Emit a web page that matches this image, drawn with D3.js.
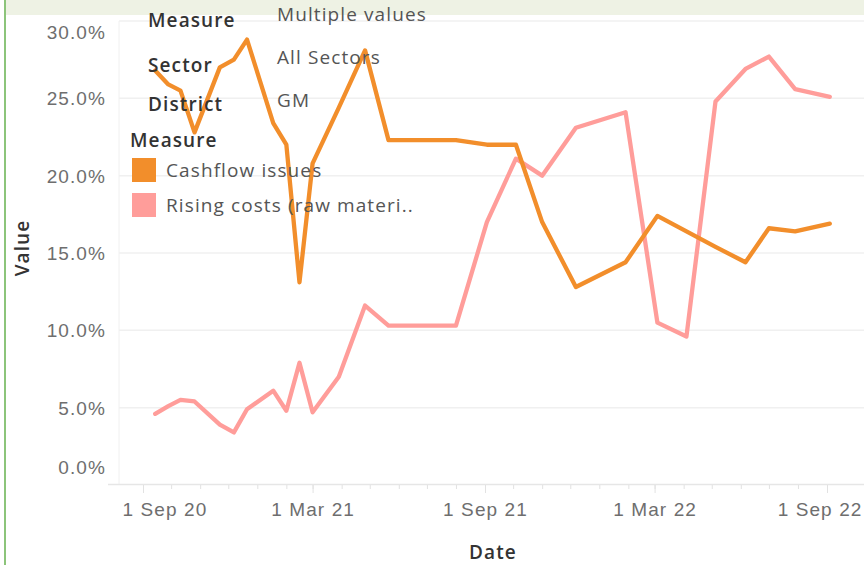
<!DOCTYPE html>
<html>
<head>
<meta charset="utf-8">
<script src="https://cdn.jsdelivr.net/npm/d3@7"></script>
<style>
  body { margin: 0; background: #fff; }
  svg { display: block; font-family: "Open Sans", sans-serif; }
</style>
</head>
<body>
<div id="graph"></div>
<script>
//measurements
var width = 864;
var height = 565;
var margin = { top: 21, right: 0, bottom: 80, left: 119 };
var fontSize = "19px";
var spacing = "1.1px";

//data
var dates = ["2020-09-14", "2020-09-28", "2020-10-11", "2020-10-26", "2020-11-22", "2020-12-07",
    "2020-12-21", "2021-01-18", "2021-02-01", "2021-02-15", "2021-03-01", "2021-03-29",
    "2021-04-26", "2021-05-21", "2021-08-01", "2021-09-03", "2021-10-04", "2021-11-01",
    "2021-12-07", "2022-01-29", "2022-03-04", "2022-04-04", "2022-05-05", "2022-06-06",
    "2022-07-01", "2022-07-29", "2022-09-04"];
var cashflow = [26.8, 25.9, 25.5, 22.8, 27.0, 27.5, 28.8, 23.4, 22.0, 13.1, 20.8, 24.4,
    28.1, 22.3, 22.3, 22.0, 22.0, 17.0, 12.8, 14.4, 17.4, 16.4, 15.4, 14.4, 16.6, 16.4, 16.9];
var risingCosts = [4.6, 5.1, 5.5, 5.4, 3.9, 3.4, 4.9, 6.1, 4.8, 7.9, 4.7, 7.0, 11.6, 10.3,
    10.3, 17.0, 21.1, 20.0, 23.1, 24.1, 10.5, 9.6, 24.8, 26.9, 27.7, 25.6, 25.1];
var seriesNames = ["Cashflow issues", "Rising costs (raw materi.."];
var seriesColors = ["#f28e2b", "#ff9d9a"];
var yTicks = [0, 0.05, 0.10, 0.15, 0.20, 0.25, 0.30];
var xTicks = ["2020-09-01", "2021-03-01", "2021-09-01", "2022-03-01", "2022-09-01"];
var filterNames = ["Measure", "Sector", "District"];
var filterValues = ["Multiple values", "All Sectors", "GM"];

var parseDate = d3.timeParse("%Y-%m-%d");

//chart variables
var chart;
var chartWidth;
var chartHeight;

init();

function init() {
    chartWidth = width - margin.left - margin.right;
    chartHeight = 485 - margin.top;
    initChart();
    createAxis();
    drawLines();
    drawLegend();
}

function initChart() {
    chart = d3.select("#graph").append("svg")
        .attr("width", width)
        .attr("height", height);

    // dashboard frame bits
    chart.append("rect")
        .attr("x", 6).attr("y", 0)
        .attr("width", width).attr("height", 15)
        .style("fill", "#eef2e4");
    chart.append("rect")
        .attr("x", 4).attr("y", 0)
        .attr("width", 2).attr("height", height)
        .style("fill", "#8cc47a");

    chart.plotArea = chart.append("g")
        .attr("transform", "translate(" + margin.left + "," + margin.top + ")");
}

function createAxis() {
    chart.xScale = d3.scaleTime()
        .domain([parseDate("2020-09-01"), parseDate("2022-09-01")])
        .range([143 - margin.left, 827 - margin.left]);

    chart.yScale = d3.scaleLinear()
        .domain([0, 0.30])
        .range([chartHeight, 0]);

    // gridlines
    chart.plotArea.selectAll(".grid")
        .data(yTicks.slice(1))
        .enter().append("line")
          .attr("class", "grid")
          .attr("x1", 0)
          .attr("x2", chartWidth)
          .attr("y1", function (d) { return chart.yScale(d); })
          .attr("y2", function (d) { return chart.yScale(d); })
          .style("stroke", "#f0f0f0")
          .style("stroke-width", 1.5);

    // pane left edge + x axis base line
    chart.plotArea.append("line")
        .attr("x1", 0).attr("x2", 0)
        .attr("y1", 0).attr("y2", chartHeight)
        .style("stroke", "#f0f0f0");
    chart.plotArea.append("line")
        .attr("x1", -11).attr("x2", chartWidth)
        .attr("y1", chartHeight - 0.5).attr("y2", chartHeight - 0.5)
        .style("stroke", "#e6e6e6")
        .style("stroke-width", 1.5);

    // y axis
    chart.yAxis = d3.axisLeft(chart.yScale)
        .tickValues(yTicks)
        .tickSize(0)
        .tickPadding(13)
        .tickFormat(d3.format(".1%"));

    chart.yAxisContainer = chart.plotArea.append("g")
        .call(chart.yAxis);
    chart.yAxisContainer.select(".domain").remove();
    chart.yAxisContainer.selectAll("text")
        .style("font-size", fontSize)
        .style("letter-spacing", spacing)
        .style("fill", "#6e6e6e")
        .attr("dy", function (d) {
            if (d === 0) return "-0.6em";
            if (d === 0.30) return "0.9em";
            return "0.35em";
        });

    // x axis minor (monthly) ticks
    chart.xMinor = d3.axisBottom(chart.xScale)
        .ticks(d3.timeMonth.every(1))
        .tickSize(4)
        .tickFormat("");
    chart.xMinorContainer = chart.plotArea.append("g")
        .attr("transform", "translate(0," + chartHeight + ")")
        .call(chart.xMinor);
    chart.xMinorContainer.select(".domain").remove();
    chart.xMinorContainer.selectAll("line").style("stroke", "#e2e2e2");

    // x axis major ticks
    chart.xAxis = d3.axisBottom(chart.xScale)
        .tickValues(xTicks.map(parseDate))
        .tickSize(8)
        .tickPadding(10)
        .tickFormat(d3.timeFormat("%-d %b %y"));
    chart.xAxisContainer = chart.plotArea.append("g")
        .attr("transform", "translate(0," + chartHeight + ")")
        .call(chart.xAxis);
    chart.xAxisContainer.select(".domain").remove();
    chart.xAxisContainer.selectAll("line").style("stroke", "#e2e2e2");
    chart.xAxisContainer.selectAll("text")
        .style("font-size", fontSize)
        .style("letter-spacing", spacing)
        .style("fill", "#6e6e6e");

    // edge labels are pushed back inside the pane, tableau style
    var labels = chart.xAxisContainer.selectAll(".tick text");
    labels.filter(function (d, i) { return i === 0; })
        .attr("text-anchor", "start")
        .attr("x", -21);
    labels.filter(function (d, i) { return i === xTicks.length - 1; })
        .attr("text-anchor", "end")
        .attr("x", 35);

    // axis titles
    chart.append("text")
        .style("font-size", fontSize)
        .style("font-weight", 600)
        .style("letter-spacing", spacing)
        .style("fill", "#333")
        .attr("text-anchor", "middle")
        .attr("transform", "translate(493, 559)")
        .text("Date");

    chart.append("text")
        .style("font-size", fontSize)
        .style("font-weight", 600)
        .style("letter-spacing", spacing)
        .style("fill", "#333")
        .attr("text-anchor", "middle")
        .attr("transform", "translate(29, 248) rotate(-90)")
        .text("Value");
}

function drawLines() {
    var line = d3.line()
        .x(function (d) { return chart.xScale(d.date); })
        .y(function (d) { return chart.yScale(d.value / 100); });

    var series = [cashflow, risingCosts].map(function (vals, i) {
        return {
            name: seriesNames[i],
            color: seriesColors[i],
            points: vals.map(function (v, j) { return { date: parseDate(dates[j]), value: v }; })
        };
    });

    // pink is drawn beneath orange
    chart.plotArea.selectAll(".series")
        .data(series.slice().reverse())
        .enter().append("path")
          .attr("class", "series")
          .attr("d", function (d) { return line(d.points); })
          .style("fill", "none")
          .style("stroke", function (d) { return d.color; })
          .style("stroke-width", 4.3)
          .style("stroke-linejoin", "round")
          .style("stroke-linecap", "round");
}

function drawLegend() {
    // filter summary table floating over the chart
    chart.selectAll(".filterName")
        .data(filterNames)
        .enter().append("text")
          .attr("class", "filterName")
          .attr("x", 148)
          .attr("y", function (d, i) { return [27, 72, 111][i]; })
          .style("font-size", fontSize)
          .style("font-weight", 600)
          .style("letter-spacing", spacing)
          .style("fill", "#333")
          .text(function (d) { return d; });

    chart.selectAll(".filterValue")
        .data(filterValues)
        .enter().append("text")
          .attr("class", "filterValue")
          .attr("x", 277)
          .attr("y", function (d, i) { return [21, 64, 107][i]; })
          .style("font-size", fontSize)
          .style("letter-spacing", spacing)
          .style("fill", "#555")
          .text(function (d) { return d; });

    // colour legend
    chart.append("text")
        .attr("x", 130)
        .attr("y", 147)
        .style("font-size", fontSize)
        .style("font-weight", 600)
        .style("letter-spacing", spacing)
        .style("fill", "#333")
        .text("Measure");

    var item = chart.selectAll(".legendItem")
        .data(seriesNames)
        .enter().append("g")
          .attr("class", "legendItem")
          .attr("transform", function (d, i) { return "translate(132," + (158 + i * 35) + ")"; });

    item.append("rect")
        .attr("width", 24)
        .attr("height", 24)
        .style("fill", function (d, i) { return seriesColors[i]; });

    item.append("text")
        .attr("x", 34)
        .attr("y", 19)
        .style("font-size", fontSize)
        .style("letter-spacing", spacing)
        .style("fill", "#555")
        .text(function (d) { return d; });
}
</script>
</body>
</html>
